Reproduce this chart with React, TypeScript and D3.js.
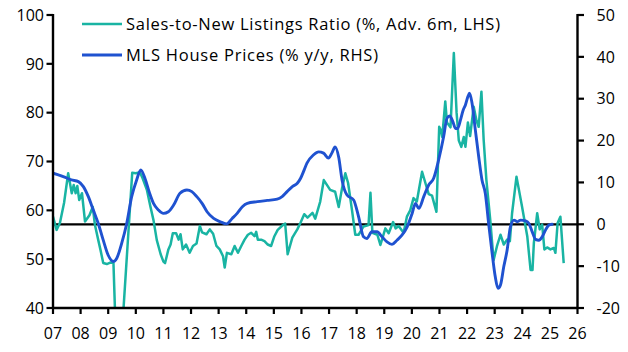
import React from "react";
import * as d3 from "d3";

const salesDates = [
  2007.0, 2007.13, 2007.25, 2007.4, 2007.55, 2007.68, 2007.75, 2007.82, 2007.88, 2007.95,
  2008.05, 2008.16, 2008.32, 2008.44, 2008.52, 2008.64, 2008.72, 2008.82, 2008.95, 2009.07,
  2009.19, 2009.26, 2009.45, 2009.55, 2009.87, 2010.0, 2010.15, 2010.25, 2010.4, 2010.52,
  2010.64, 2010.76, 2010.9, 2011.0, 2011.06, 2011.18, 2011.26, 2011.34, 2011.46, 2011.55,
  2011.62, 2011.7, 2011.82, 2011.95, 2012.07, 2012.2, 2012.32, 2012.4, 2012.56, 2012.68,
  2012.8, 2012.92, 2013.04, 2013.16, 2013.22, 2013.3, 2013.46, 2013.58, 2013.7, 2013.82,
  2013.94, 2014.06, 2014.18, 2014.3, 2014.36, 2014.42, 2014.54, 2014.66, 2014.78, 2014.9,
  2015.02, 2015.14, 2015.33, 2015.41, 2015.5, 2015.67, 2015.85, 2015.97, 2016.1, 2016.22,
  2016.4, 2016.5, 2016.68, 2016.81, 2017.04, 2017.22, 2017.35, 2017.47, 2017.59, 2017.69,
  2017.83, 2017.95, 2018.07, 2018.25, 2018.43, 2018.5, 2018.57, 2018.75, 2018.86, 2019.04,
  2019.16, 2019.32, 2019.41, 2019.52, 2019.7, 2019.82, 2019.94, 2020.06, 2020.18, 2020.37,
  2020.49, 2020.61, 2020.73, 2020.89, 2020.99, 2021.05, 2021.1, 2021.21, 2021.27, 2021.4,
  2021.52, 2021.62, 2021.7, 2021.79, 2021.88, 2021.94, 2022.03, 2022.11, 2022.24, 2022.34,
  2022.42, 2022.52, 2022.6, 2022.7, 2022.84, 2022.96, 2023.08, 2023.21, 2023.33, 2023.45,
  2023.55, 2023.63, 2023.79, 2023.99, 2024.18, 2024.3, 2024.37, 2024.42, 2024.54, 2024.63,
  2024.72, 2024.8, 2024.9, 2025.02, 2025.14, 2025.2, 2025.28, 2025.38, 2025.5,
];
const salesValues = [
  58.7, 56.0, 57.4, 61.5, 67.6, 63.5, 65.2, 63.5, 65.0, 62.1,
  63.5, 57.7, 59.0, 60.7, 57.0, 53.9, 51.9, 49.2, 49.0, 49.3,
  49.2, 37.0, 37.0, 39.5, 67.7, 67.6, 67.8, 66.5, 64.2, 61.0,
  58.0, 53.9, 51.0, 49.5, 49.2, 52.0, 53.0, 55.3, 55.3, 54.0,
  55.1, 52.0, 53.0, 51.3, 52.7, 53.2, 56.8, 55.5, 55.1, 56.1,
  55.2, 52.7, 52.0, 50.6, 48.3, 51.3, 51.0, 52.7, 51.3, 52.7,
  54.0, 55.0, 55.4, 54.7, 55.6, 54.0, 54.0, 53.7, 53.0, 52.7,
  54.7, 56.0, 57.0, 57.3, 51.0, 54.4, 56.1, 57.5, 59.2, 58.5,
  59.5, 58.3, 61.8, 66.2, 64.2, 63.8, 60.7, 64.5, 67.6, 65.6,
  60.1, 55.0, 55.0, 56.7, 57.0, 63.6, 55.4, 55.0, 52.9, 56.3,
  55.3, 57.6, 56.3, 56.8, 55.4, 58.7, 60.0, 62.5, 61.8, 67.9,
  65.6, 63.3, 63.0, 59.7, 77.1, 76.4, 75.0, 82.3, 78.0, 77.0,
  92.2, 80.0, 74.3, 73.0, 75.0, 73.0, 78.0, 75.2, 81.2, 78.4,
  77.1, 84.3, 74.5, 66.2, 58.0, 49.8, 52.6, 55.0, 53.0, 54.0,
  53.7, 59.4, 66.9, 60.8, 54.7, 47.8, 47.8, 53.4, 59.4, 56.1,
  57.1, 52.0, 52.4, 52.0, 52.3, 51.3, 57.4, 58.7, 49.2,
];

const priceDates = [
  2007.0, 2007.37, 2007.67, 2007.92, 2008.1, 2008.28, 2008.46, 2008.64, 2008.82, 2009.0,
  2009.19, 2009.31, 2009.49, 2009.67, 2009.85, 2010.03, 2010.18, 2010.33, 2010.5, 2010.64,
  2010.82, 2011.0, 2011.18, 2011.37, 2011.6, 2011.85, 2012.03, 2012.21, 2012.4, 2012.58,
  2012.82, 2013.06, 2013.28, 2013.49, 2013.67, 2013.86, 2014.04, 2014.4, 2014.76, 2015.12,
  2015.3, 2015.48, 2015.67, 2015.85, 2015.97, 2016.1, 2016.2, 2016.44, 2016.62, 2016.8,
  2016.98, 2017.1, 2017.22, 2017.35, 2017.47, 2017.65, 2017.89, 2018.07, 2018.25, 2018.37,
  2018.55, 2018.74, 2018.92, 2019.1, 2019.28, 2019.46, 2019.64, 2019.83, 2020.01, 2020.13,
  2020.25, 2020.43, 2020.61, 2020.79, 2020.97, 2021.15, 2021.27, 2021.37, 2021.48, 2021.58,
  2021.66, 2021.76, 2021.86, 2021.94, 2022.03, 2022.09, 2022.18, 2022.3, 2022.42, 2022.54,
  2022.66, 2022.78, 2022.9, 2023.02, 2023.12, 2023.21, 2023.33, 2023.45, 2023.57, 2023.7,
  2023.82, 2023.94, 2024.12, 2024.24, 2024.36, 2024.48, 2024.6, 2024.72, 2024.84, 2024.96,
  2025.08,
];
const priceValues = [
  12.2, 11.4, 10.6, 10.2, 9.0, 6.6, 3.4, 0.2, -3.8, -7.4,
  -8.9, -8.1, -4.5, 0.2, 6.6, 10.6, 13.0, 11.0, 7.4, 5.0,
  3.4, 2.6, 3.0, 4.6, 7.4, 8.2, 7.8, 6.6, 5.0, 3.0,
  1.4, 0.6, 0.1, 1.4, 2.6, 4.2, 5.0, 5.4, 5.7, 6.0,
  6.6, 7.8, 9.0, 9.8, 11.0, 13.0, 14.6, 16.6, 17.3, 17.0,
  15.8, 17.0, 18.5, 16.0, 10.6, 7.0, 5.8, 1.8, -3.0, -3.4,
  -1.8, -1.8, -3.0, -4.2, -4.8, -3.8, -2.6, -0.6, 2.6, 5.0,
  3.8, 6.6, 9.4, 11.0, 15.4, 20.9, 25.3, 25.9, 24.6, 22.9,
  22.9, 24.9, 27.3, 28.5, 30.5, 31.3, 28.9, 22.5, 16.2, 10.6,
  7.4, 0.2, -6.5, -12.5, -15.3, -14.5, -10.1, -6.2, -0.6, 1.0,
  0.6, 1.0, 0.8, 0.2, -1.8, -3.6, -3.8, -3.0, -1.4, -0.2,
  0.0,
];

const leftTicks = [40, 50, 60, 70, 80, 90, 100];
const rightTicks = [-20, -10, 0, 10, 20, 30, 40, 50];
const yearTicks = d3.range(2007, 2027);
const yearLabels = yearTicks.map((y) => String(y % 100).padStart(2, "0"));

const salesLabel = "Sales-to-New Listings Ratio (%, Adv. 6m, LHS)";
const priceLabel = "MLS House Prices (% y/y, RHS)";

const W = 628;
const H = 352;
const L = 53;
const R = 577.5;
const T = 15;
const B = 308;
const TEAL = "#19b4a3";
const BLUE = "#1f52d0";
const FONT = "'Open Sans', sans-serif";
const FS = 16;
const LFS = 16.5;

export default function App() {
  const x = d3.scaleLinear().domain([2007, 2026]).range([L, R]);
  const yL = d3.scaleLinear().domain([40, 100]).range([B, T]);
  const yR = d3.scaleLinear().domain([-20, 50]).range([B, T]);

  const salesLine = d3
    .line<number>()
    .x((_, i) => x(salesDates[i]))
    .y((v) => yL(v));
  const priceLine = d3
    .line<number>()
    .x((_, i) => x(priceDates[i]))
    .y((v) => yR(v))
    .curve(d3.curveMonotoneX);

  return (
    <svg
      width={W}
      height={H}
      style={{ position: "absolute", left: 0, top: 0, background: "#fff" }}
      fontFamily={FONT}
    >
      <defs>
        <clipPath id="plot">
          <rect x={L} y={T - 5} width={R - L} height={B - T + 5} />
        </clipPath>
      </defs>

      {/* zero line */}
      <line x1={L} x2={R} y1={yR(0)} y2={yR(0)} stroke="#000" strokeWidth={2.2} />

      <g clipPath="url(#plot)">
        <path d={salesLine(salesValues) || ""} fill="none" stroke={TEAL} strokeWidth={2.5} strokeLinejoin="round" />
        <path d={priceLine(priceValues) || ""} fill="none" stroke={BLUE} strokeWidth={2.9} strokeLinejoin="round" strokeLinecap="round" />
      </g>

      {/* left axis */}
      <line x1={L} x2={L} y1={T - 1} y2={B + 1} stroke="#000" strokeWidth={2.4} />
      {leftTicks.map((t) => (
        <g key={"l" + t}>
          <line x1={L - 6.5} x2={L} y1={yL(t)} y2={yL(t)} stroke="#000" strokeWidth={2.2} />
          <text x={L - 9} y={yL(t)} dy="0.36em" textAnchor="end" fontSize={FS} fill="#000">
            {t}
          </text>
        </g>
      ))}

      {/* right axis */}
      <line x1={R} x2={R} y1={T - 1} y2={B + 1} stroke="#000" strokeWidth={2.4} />
      {rightTicks.map((t) => (
        <g key={"r" + t}>
          <line x1={R} x2={R + 6.5} y1={yR(t)} y2={yR(t)} stroke="#000" strokeWidth={2.2} />
          <text x={R + 19} y={yR(t)} dy="0.36em" textAnchor="start" fontSize={FS} fill="#000">
            {t}
          </text>
        </g>
      ))}

      {/* bottom axis */}
      <line x1={L} x2={R} y1={B} y2={B} stroke="#000" strokeWidth={2.4} />
      {yearTicks.map((t, i) => (
        <g key={"x" + t}>
          <line x1={x(t)} x2={x(t)} y1={B} y2={B + 6} stroke="#000" strokeWidth={2.2} />
          <text x={x(t)} y={338.5} textAnchor="middle" fontSize={FS} fill="#000">
            {yearLabels[i]}
          </text>
        </g>
      ))}

      {/* legend */}
      <line x1={82} x2={122} y1={24} y2={24} stroke={TEAL} strokeWidth={2.6} />
      <text x={126} y={24} dy="0.36em" fontSize={LFS} fill="#000" textLength={374} lengthAdjust="spacing">
        {salesLabel}
      </text>
      <line x1={82} x2={122} y1={55} y2={55} stroke={BLUE} strokeWidth={2.8} />
      <text x={126} y={55} dy="0.36em" fontSize={LFS} fill="#000" textLength={252} lengthAdjust="spacing">
        {priceLabel}
      </text>
    </svg>
  );
}
